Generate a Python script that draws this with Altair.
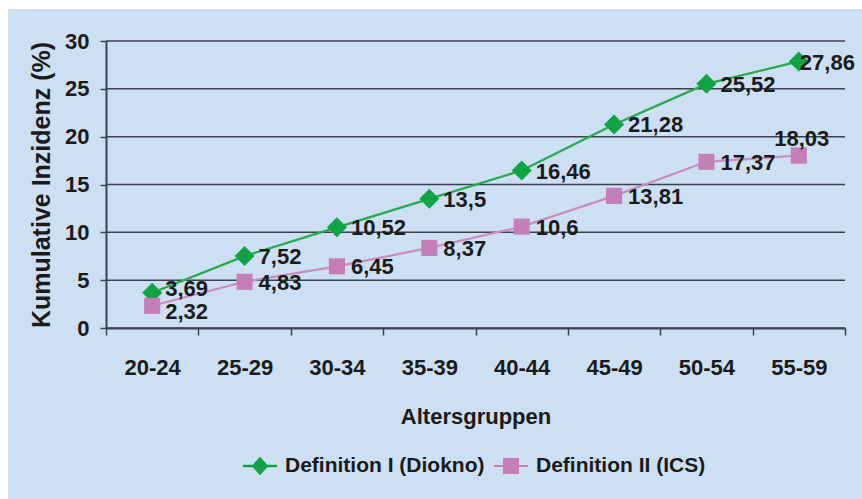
import altair as alt
import pandas as pd

# Age groups and cumulative incidence (%) for both definitions
ages = ["20-24", "25-29", "30-34", "35-39", "40-44", "45-49", "50-54", "55-59"]
diokno = [3.69, 7.52, 10.52, 13.5, 16.46, 21.28, 25.52, 27.86]
ics = [2.32, 4.83, 6.45, 8.37, 10.6, 13.81, 17.37, 18.03]
series = ["Definition I (Diokno)", "Definition II (ICS)"]
y_ticks = [0, 5, 10, 15, 20, 25, 30]

GREEN = "#12a444"
GREEN_LINE = "#25ab4c"
PINK = "#c47fb9"
PINK_LINE = "#c98cc1"
INK = "#1b1b1b"
GRID = "#3a4250"
BG = "#cddff2"
SANS = "Liberation Sans, Arial, sans-serif"

rows = []
for name, vals in zip(series, [diokno, ics]):
    for a, v in zip(ages, vals):
        rows.append({"age": a, "series": name, "value": v,
                     "label": f"{v:g}".replace(".", ",")})
df = pd.DataFrame(rows)
grid_df = pd.DataFrame({"value": y_ticks})

W, H = 739, 287

x_enc = alt.X(
    "age:N",
    scale=alt.Scale(type="band", domain=ages, paddingInner=0, paddingOuter=0),
    axis=alt.Axis(
        title="Altersgruppen", labelAngle=0, tickBand="extent", zindex=2,
        labelFont=SANS, labelFontSize=22, labelFontWeight="bold", labelColor=INK,
        labelPadding=22, tickSize=7, tickColor=GRID, tickWidth=1.5,
        domainColor=GRID, domainWidth=2,
        titleFont=SANS, titleFontSize=22, titleFontWeight="bold", titleColor=INK,
        titleY=95, titleBaseline="alphabetic", grid=False,
    ),
)
y_enc = alt.Y(
    "value:Q",
    scale=alt.Scale(domain=[0, 30], nice=False, zero=True),
    axis=alt.Axis(
        title="Kumulative Inzidenz (%)", values=y_ticks, grid=False, zindex=2,
        labelFont=SANS, labelFontSize=22, labelFontWeight="bold", labelColor=INK,
        labelPadding=11, tickSize=6, tickColor=GRID, tickWidth=1.5,
        domainColor=GRID, domainWidth=2,
        titleFont=SANS, titleFontSize=25, titleFontWeight="bold", titleColor=INK,
        titleX=-57, titleY=H / 2, titleAngle=270, titleAlign="center",
        titleBaseline="alphabetic",
    ),
)

# legend glyphs: a short line with the series marker on it
diamond_line = "M-1,-0.07H1V0.07H-1Z M0,-0.54L0.5,0L0,0.54L-0.5,0Z"
square_line = "M-1,-0.06H1V0.06H-1Z M-0.47,-0.47H0.47V0.47H-0.47Z"

background = alt.Chart(alt.Data(values=[{}])).mark_rect(color=BG).encode(
    x=alt.value(-98), x2=alt.value(W + 17), y=alt.value(-32), y2=alt.value(H + 171)
)

grid = alt.Chart(grid_df).mark_rule(color=GRID, strokeWidth=1.5).encode(y=y_enc)

base = alt.Chart(df)
d_base = base.transform_filter(f"datum.series == '{series[0]}'")
i_base = base.transform_filter(f"datum.series == '{series[1]}'")

d_line = d_base.mark_line(color=GREEN_LINE, strokeWidth=2.3).encode(x=x_enc, y=y_enc)
i_line = i_base.mark_line(color=PINK_LINE, strokeWidth=2.2).encode(x=x_enc, y=y_enc)

diamonds = d_base.mark_point(
    shape="diamond", filled=True, size=400, opacity=1, color=GREEN
).encode(x=x_enc, y=y_enc)
squares = i_base.mark_point(
    shape="square", filled=True, size=260, opacity=1, color=PINK
).encode(x=x_enc, y=y_enc)

text_style = dict(font=SANS, fontSize=22, fontWeight="bold", color=INK,
                  baseline="middle")
txt = dict(x=x_enc, y=y_enc, text="label:N")

mid_ages = "datum.age != '20-24' && datum.age != '55-59'"
labels_mid = base.transform_filter(mid_ages).mark_text(
    align="left", dx=14, dy=1, **text_style).encode(**txt)

first_d = d_base.transform_filter("datum.age == '20-24'").mark_text(
    align="left", dx=13, dy=-4, **text_style).encode(**txt)
first_i = i_base.transform_filter("datum.age == '20-24'").mark_text(
    align="left", dx=13, dy=6, **text_style).encode(**txt)

last_d = d_base.transform_filter("datum.age == '55-59'").mark_text(
    align="left", dx=1, dy=2, **text_style).encode(**txt)
last_i = i_base.transform_filter("datum.age == '55-59'").mark_text(
    align="center", dx=3, dy=-17, **text_style).encode(**txt)

legend_layer = base.transform_filter("datum.value < 0").mark_point(
    filled=True, opacity=1
).encode(
    x=x_enc, y=y_enc,
    color=alt.Color("series:N", scale=alt.Scale(domain=series, range=[GREEN, PINK]),
                    title=None),
    shape=alt.Shape("series:N",
                    scale=alt.Scale(domain=series, range=[diamond_line, square_line]),
                    title=None),
)

chart = alt.layer(
    background, grid, d_line, i_line, diamonds, squares,
    labels_mid, first_d, first_i, last_d, last_i, legend_layer
).properties(
    width=W, height=H,
    autosize=alt.AutoSizeParams(type="none"),
    padding={"left": 106, "top": 41, "right": 17, "bottom": 171},
    background="white",
).configure_view(stroke=None).configure_legend(
    orient="none", legendX=137, legendY=408, direction="horizontal",
    labelFont=SANS, labelFontSize=21, labelFontWeight="bold", labelColor=INK,
    labelLimit=400, symbolSize=1156, labelOffset=8, columnPadding=9,
    symbolStrokeWidth=0, zindex=2,
)

chart.save("out.html", embed_options={"renderer": "svg", "actions": False})
